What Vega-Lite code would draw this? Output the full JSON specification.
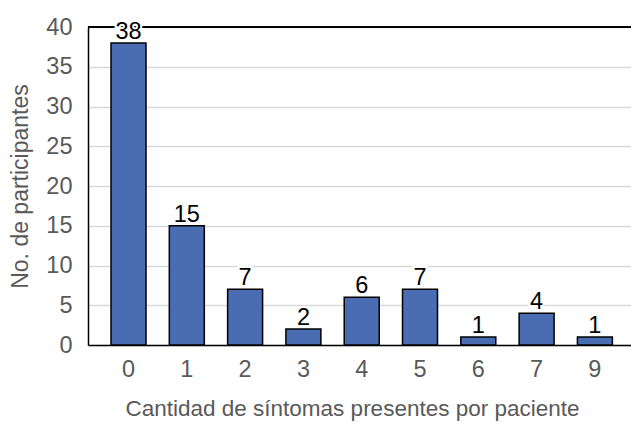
{
  "$schema": "https://vega.github.io/schema/vega-lite/v6.json",
  "width": 543,
  "height": 318,
  "autosize": {"type": "none"},
  "padding": {"left": 88, "top": 27, "right": 0, "bottom": 79},
  "background": "white",
  "config": {"view": {"stroke": null}, "font": "Liberation Sans"},
  "data": {"values": [
    {"sintomas": "0", "n": 38},
    {"sintomas": "1", "n": 15},
    {"sintomas": "2", "n": 7},
    {"sintomas": "3", "n": 2},
    {"sintomas": "4", "n": 6},
    {"sintomas": "5", "n": 7},
    {"sintomas": "6", "n": 1},
    {"sintomas": "7", "n": 4},
    {"sintomas": "9", "n": 1}
  ]},
  "encoding": {
    "x": {"field": "sintomas", "type": "nominal", "sort": null,
      "scale": {"paddingInner": 0.4, "paddingOuter": 0.357, "align": 0.553},
      "axis": {"title": "Cantidad de síntomas presentes por paciente", "titleX": 264, "labelAngle": 0, "labelFontSize": 23.5, "labelColor": "#595959", "titleFontSize": 22.5, "titleFontWeight": "normal", "titleColor": "#595959", "titlePadding": 17, "labelPadding": 12, "ticks": false, "domainColor": "black", "domainWidth": 1.5}},
    "y": {"field": "n", "type": "quantitative",
      "scale": {"domain": [0, 40]},
      "axis": {"title": "No. de participantes", "values": [0,5,10,15,20,25,30,35,40], "labelFontSize": 23.5, "labelColor": "#595959", "titleFontSize": 23, "titleFontWeight": "normal", "titleColor": "#595959", "titlePadding": 13, "labelPadding": 16, "ticks": false, "domainColor": "black", "domainWidth": 1.5, "gridColor": "#d9d9d9", "gridWidth": 1.5}}
  },
  "layer": [
    {"mark": {"type": "bar", "fill": "#4a6cb3", "stroke": "black", "strokeWidth": 1.5}},
    {"mark": {"type": "rule", "color": "black", "strokeWidth": 1.5}, "encoding": {"y": {"datum": 40}, "x": null}},
    {"mark": {"type": "text", "baseline": "bottom", "dy": 1, "fontSize": 23.5, "stroke": "white", "strokeWidth": 4, "color": "white"}, "encoding": {"text": {"field": "n"}}},
    {"mark": {"type": "text", "baseline": "bottom", "dy": 1, "fontSize": 23.5, "color": "black"}, "encoding": {"text": {"field": "n"}}}
  ]
}
